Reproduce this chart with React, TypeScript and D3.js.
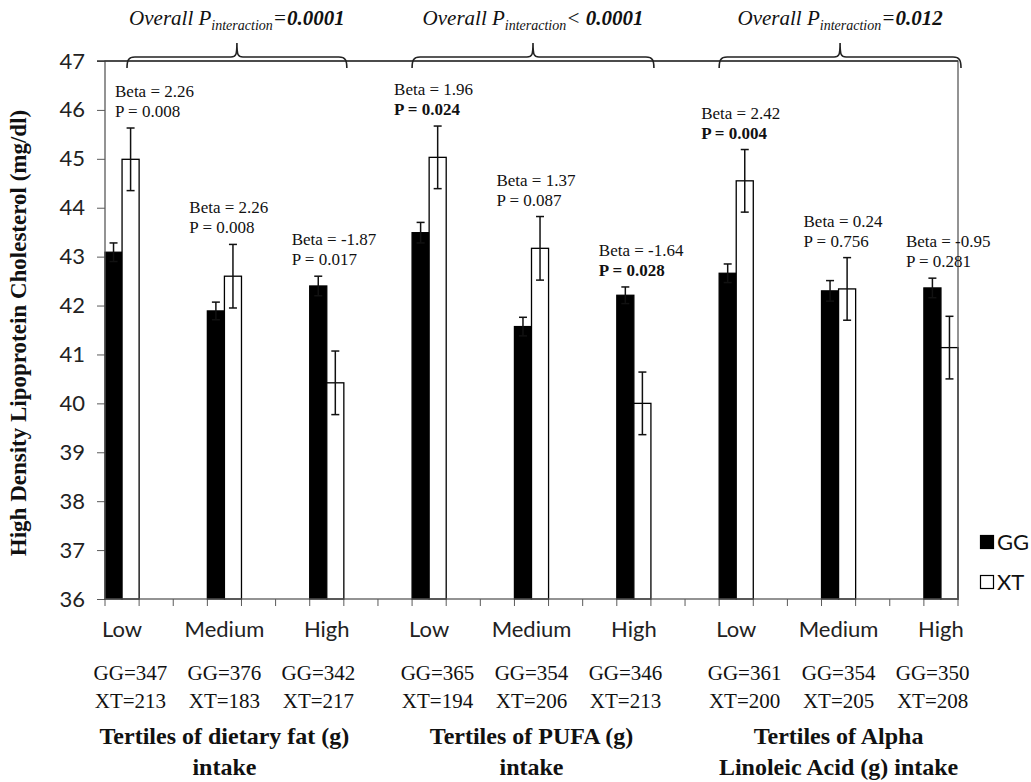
import React, { useEffect, useRef } from "react";
import * as d3 from "d3";

// tertile categories, 3 per nutrient group
const tertiles = ["Low", "Medium", "High"];
const groupTitles = [
  ["Tertiles of dietary fat (g)", "intake"],
  ["Tertiles of PUFA (g)", "intake"],
  ["Tertiles of Alpha", "Linoleic Acid (g) intake"],
];
const interactionOp = ["=", "< ", "="];
const interactionVal = ["0.0001", "0.0001", "0.012"];

const series = ["GG", "XT"];
const ggMean = [43.09, 41.89, 42.4, 43.49, 41.57, 42.21, 42.66, 42.3, 42.36];
const ggErr = [0.19, 0.18, 0.2, 0.21, 0.19, 0.17, 0.19, 0.21, 0.2];
const xtMean = [44.99, 42.6, 40.42, 45.03, 43.17, 40.0, 44.55, 42.34, 41.14];
const xtErr = [0.64, 0.65, 0.65, 0.64, 0.65, 0.64, 0.64, 0.64, 0.64];
const ggN = [347, 376, 342, 365, 354, 346, 361, 354, 350];
const xtN = [213, 183, 217, 194, 206, 213, 200, 205, 208];
const betas = ["2.26", "2.26", "-1.87", "1.96", "1.37", "-1.64", "2.42", "0.24", "-0.95"];
const pValues = ["0.008", "0.008", "0.017", "0.024", "0.087", "0.028", "0.004", "0.756", "0.281"];
const pBold = [false, false, false, true, false, true, true, false, false];
const yTicks = [36, 37, 38, 39, 40, 41, 42, 43, 44, 45, 46, 47];

const W = 1031,
  H = 782;

export default function App() {
  const ref = useRef<SVGSVGElement>(null);

  useEffect(() => {
    const svg = d3.select(ref.current);
    svg.selectAll("*").remove();

    const serif = "'Liberation Serif', 'Times New Roman', serif";
    const sans = "Lato, 'Open Sans', sans-serif";
    const axisColor = "#5a5a5a";
    const left = 105,
      right = 958,
      top = 61,
      bottom = 599;

    // 25 slots: each tertile uses one slot, two empty slots in between
    const nSlots = (ggMean.length - 1) * 3 + 1;
    const x = d3
      .scaleBand<number>()
      .domain(d3.range(nSlots))
      .range([left, right])
      .padding(0);
    const bw = x.bandwidth();
    const inner = d3.scaleBand<string>().domain(series).range([0, bw]);
    const y = d3.scaleLinear().domain([36, 47]).range([bottom, top]);

    const data = ggMean.map((g, i) => ({
      i,
      slot: i * 3,
      tertile: tertiles[i % 3],
      group: Math.floor(i / 3),
      vals: [
        { key: "GG", mean: g, err: ggErr[i] },
        { key: "XT", mean: xtMean[i], err: xtErr[i] },
      ],
    }));
    const groupMid = (g: number) => x(g * 9 + 3)! + bw / 2;

    // y axis
    const yAxis = svg
      .append("g")
      .attr("transform", `translate(${left},0)`)
      .call(
        d3
          .axisLeft(y)
          .tickValues(yTicks)
          .tickSize(8)
          .tickPadding(12)
          .tickFormat(d3.format("d"))
      );
    yAxis.select(".domain").remove();
    yAxis.selectAll("line").attr("stroke", axisColor);
    yAxis
      .selectAll("text")
      .attr("font-family", sans)
      .attr("font-size", 22)
      .attr("fill", "#222");

    // x ticks at slot boundaries
    const bounds = d3.range(nSlots + 1).map((k) => (k < nSlots ? x(k)! : x(nSlots - 1)! + bw));
    svg
      .append("g")
      .selectAll("line")
      .data(bounds)
      .join("line")
      .attr("x1", (d) => d)
      .attr("x2", (d) => d)
      .attr("y1", bottom)
      .attr("y2", bottom + 7)
      .attr("stroke", axisColor);

    // bars
    const cat = svg
      .append("g")
      .selectAll("g")
      .data(data)
      .join("g")
      .attr("transform", (d) => `translate(${x(d.slot)},0)`);

    cat
      .selectAll("rect")
      .data((d) => d.vals)
      .join("rect")
      .attr("x", (d) => inner(d.key)!)
      .attr("y", (d) => y(d.mean))
      .attr("width", inner.bandwidth())
      .attr("height", (d) => bottom - y(d.mean))
      .attr("fill", (d) => (d.key === "GG" ? "#000" : "#fff"))
      .attr("stroke", "#000")
      .attr("stroke-width", 1.3);

    // error bars
    const eb = cat
      .selectAll("g.err")
      .data((d) => d.vals)
      .join("g")
      .attr("class", "err")
      .attr("transform", (d) => `translate(${inner(d.key)! + inner.bandwidth() / 2},0)`);
    eb.append("line")
      .attr("y1", (d) => y(d.mean - d.err))
      .attr("y2", (d) => y(d.mean + d.err))
      .attr("stroke", "#111")
      .attr("stroke-width", 1.5);
    eb.selectAll("line.cap")
      .data((d) => [d.mean - d.err, d.mean + d.err])
      .join("line")
      .attr("class", "cap")
      .attr("x1", -4)
      .attr("x2", 4)
      .attr("y1", (d) => y(d))
      .attr("y2", (d) => y(d))
      .attr("stroke", "#111")
      .attr("stroke-width", 1.5);

    // frame
    svg
      .append("rect")
      .attr("x", left)
      .attr("y", top)
      .attr("width", right - left)
      .attr("height", bottom - top)
      .attr("fill", "none")
      .attr("stroke", axisColor)
      .attr("stroke-width", 1.3);
    svg
      .append("line")
      .attr("x1", left - 8)
      .attr("x2", right)
      .attr("y1", top)
      .attr("y2", top)
      .attr("stroke", "#333")
      .attr("stroke-width", 1.5);

    // beta / p annotations
    const ann = svg
      .append("g")
      .selectAll("text")
      .data(data)
      .join("text")
      .attr("font-family", serif)
      .attr("font-size", 17)
      .attr("fill", "#111");
    const annX = (d: any) => Math.max(x(d.slot)! - 18, left + 10);
    const annY = (d: any) => y(d3.max(d.vals, (v: any) => v.mean + v.err) as number) - 11;
    ann
      .append("tspan")
      .attr("x", annX)
      .attr("y", (d) => annY(d) - 20)
      .text((d) => `Beta = ${betas[d.i]}`);
    ann
      .append("tspan")
      .attr("x", annX)
      .attr("y", annY)
      .attr("font-weight", (d) => (pBold[d.i] ? "bold" : "normal"))
      .text((d) => `P = ${pValues[d.i]}`);

    // category labels
    svg
      .append("g")
      .selectAll("text")
      .data(data)
      .join("text")
      .attr("x", (d) => x(d.slot)! + bw / 2)
      .attr("y", 637)
      .attr("text-anchor", "middle")
      .attr("font-family", sans)
      .attr("font-size", 22)
      .attr("fill", "#222")
      .text((d) => d.tertile);

    // sample counts, spaced around each group's centre
    const cnt = svg
      .append("g")
      .selectAll("text")
      .data(data)
      .join("text")
      .attr("text-anchor", "middle")
      .attr("font-family", serif)
      .attr("font-size", 21)
      .attr("fill", "#111");
    const cntX = (d: any) => groupMid(d.group) + ((d.i % 3) - 1) * 94;
    cnt.append("tspan").attr("x", cntX).attr("y", 680).text((d) => `GG=${ggN[d.i]}`);
    cnt.append("tspan").attr("x", cntX).attr("y", 708).text((d) => `XT=${xtN[d.i]}`);

    // group titles and interaction braces
    groupTitles.forEach((lines, g) => {
      const mid = groupMid(g);
      const t = svg
        .append("text")
        .attr("text-anchor", "middle")
        .attr("font-family", serif)
        .attr("font-weight", "bold")
        .attr("font-size", 24)
        .attr("fill", "#111");
      lines.forEach((ln, k) =>
        t.append("tspan").attr("x", mid).attr("y", 744 + k * 31).text(ln)
      );

      const x0 = Math.max(x(g * 9)!, left + 22);
      const x1 = x(g * 9 + 6)! + bw + 3;
      const c = (x0 + x1) / 2;
      const ly = 57;
      svg
        .append("path")
        .attr(
          "d",
          `M${x0},68 C${x0},61 ${x0 + 1},${ly} ${x0 + 8},${ly} L${c - 6},${ly} C${c - 1},${ly} ${c},${ly - 2} ${c},${ly - 14} C${c},${ly - 2} ${c + 1},${ly} ${c + 6},${ly} L${x1 - 8},${ly} C${x1 - 1},${ly} ${x1},61 ${x1},68`
        )
        .attr("fill", "none")
        .attr("stroke", "#222")
        .attr("stroke-width", 1.6);

      const tt = svg
        .append("text")
        .attr("x", c)
        .attr("y", 25)
        .attr("text-anchor", "middle")
        .attr("font-family", serif)
        .attr("font-style", "italic")
        .attr("font-size", 21)
        .attr("fill", "#111");
      tt.append("tspan").text("Overall P");
      tt.append("tspan").attr("font-size", 14).attr("dy", 5).text("interaction");
      tt.append("tspan").attr("dy", -5).text(interactionOp[g]);
      tt.append("tspan").attr("font-weight", "bold").text(interactionVal[g]);
    });

    // y axis title
    svg
      .append("text")
      .attr("transform", `translate(26,${(top + bottom) / 2 + 3}) rotate(-90)`)
      .attr("text-anchor", "middle")
      .attr("font-family", serif)
      .attr("font-weight", "bold")
      .attr("font-size", 23)
      .attr("fill", "#111")
      .text("High Density Lipoprotein Cholesterol (mg/dl)");

    // legend
    const leg = svg
      .append("g")
      .selectAll("g")
      .data(series)
      .join("g")
      .attr("transform", (d, k) => `translate(980,${542 + k * 40})`);
    leg.append("rect")
      .attr("x", 0.5)
      .attr("y", -6.5)
      .attr("width", 13)
      .attr("height", 13)
      .attr("fill", (d) => (d === "GG" ? "#000" : "#fff"))
      .attr("stroke", "#000")
      .attr("stroke-width", 1.2);
    leg.append("text")
      .attr("x", 17)
      .attr("dy", "0.36em")
      .attr("font-family", sans)
      .attr("font-size", 22)
      .attr("fill", "#111")
      .text((d) => d);
  }, []);

  return (
    <svg
      ref={ref}
      width={W}
      height={H}
      style={{ position: "absolute", left: 0, top: 0, background: "#fff" }}
    />
  );
}
